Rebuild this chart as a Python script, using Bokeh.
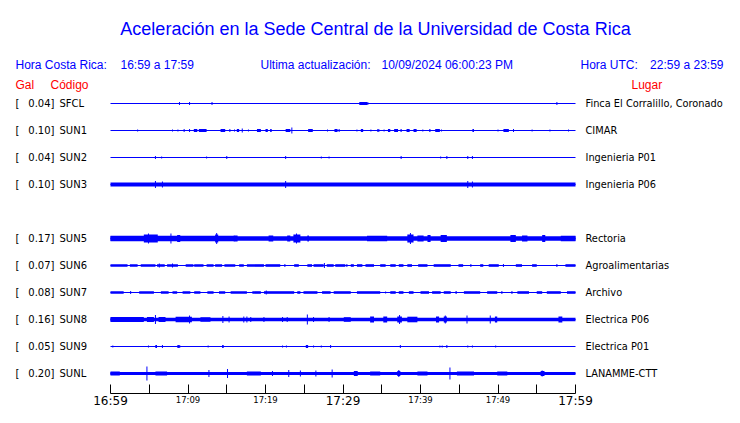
from bokeh.plotting import figure
from bokeh.models import Range1d, LinearAxis, FixedTicker, Label, ColumnDataSource
from bokeh.embed import file_html
from bokeh.resources import INLINE

# ---------------- data ----------------
TITLE = "Aceleración en la Sede Central de la Universidad de Costa Rica"
HORA_CR_LABEL = "Hora Costa Rica:"
HORA_CR = "16:59 a 17:59"
ACT_LABEL = "Ultima actualización:"
ACTUALIZACION = "10/09/2024 06:00:23 PM"
HORA_UTC_LABEL = "Hora UTC:"
HORA_UTC = "22:59 a 23:59"

stations = ["SFCL", "SUN1", "SUN2", "SUN3", "SUN5", "SUN6", "SUN7", "SUN8", "SUN9", "SUNL"]
peak_gal = [0.04, 0.10, 0.04, 0.10, 0.17, 0.07, 0.08, 0.16, 0.05, 0.20]
places = ["Finca El Corralillo, Coronado", "CIMAR", "Ingenieria P01", "Ingenieria P06",
          "Rectoria", "Agroalimentarias", "Archivo", "Electrica P06", "Electrica P01",
          "LANAMME-CTT"]
slots = [0, 1, 2, 3, 5, 6, 7, 8, 9, 10]   # SUN4 has no trace

# continuous background envelope (relative amplitude) for each station
base_amp = [0, 0, 0, 2.0, 2.2, 0, 0, 1.8, 0, 1.5]

# bursts: (start minute, end minute, amplitude)
blocks_SFCL = [(32.1, 33.1, 1.5)]
blocks_SUN1 = [(10.75, 11.2, 1.5), (11.4, 12.4, 1.5), (14.2, 14.8, 1.5), (16.3, 16.6, 1.5),
               (18.9, 19.4, 1.5), (20.0, 20.3, 1.5), (20.6, 20.8, 1.5), (22.6, 23.2, 1.5),
               (25.5, 26.1, 1.5), (28.9, 29.3, 1.5), (32.3, 32.6, 1.5), (34.4, 34.7, 1.2),
               (35.8, 36.1, 1.5), (36.6, 37.1, 1.5), (37.4, 37.6, 1.2), (38.2, 38.6, 1.5),
               (39.1, 39.5, 1.5), (41.1, 41.3, 1.2), (41.9, 42.5, 1.5), (46.7, 46.9, 1.5),
               (50.7, 51.4, 1.5)]
blocks_SUN2 = []
blocks_SUN3 = []
blocks_SUN5 = [(0.0, 16.0, 2.8), (4.3, 6.1, 4.0), (8.6, 9.0, 3.5), (13.5, 13.9, 4.0),
               (15.9, 16.4, 3.0), (20.4, 21.0, 3.0), (22.8, 23.2, 3.0), (23.6, 24.5, 4.0),
               (25.4, 25.6, 3.0), (33.1, 35.7, 2.8), (38.3, 39.1, 4.0), (39.6, 40.4, 3.0),
               (40.9, 41.3, 3.5), (42.6, 43.4, 3.5), (51.6, 52.3, 3.5), (53.1, 53.8, 3.0),
               (55.7, 56.1, 3.5), (58.1, 60.0, 2.8)]
blocks_SUN6 = [(0.0, 2.2, 1.3), (2.5, 3.5, 1.3), (3.9, 5.8, 1.3), (6.0, 7.0, 1.3), (7.3, 8.7, 1.3),
               (9.7, 10.7, 1.3), (10.8, 12.0, 1.3), (12.4, 13.3, 1.3), (13.5, 14.4, 1.3),
               (14.7, 16.1, 1.3), (16.6, 17.2, 1.3), (17.6, 19.8, 1.3), (20.0, 21.9, 1.3),
               (23.7, 24.3, 1.3), (25.4, 26.0, 1.3), (26.2, 27.5, 1.3), (27.9, 28.8, 1.3),
               (29.0, 30.3, 1.3), (31.0, 31.4, 1.3), (31.8, 32.5, 1.3), (32.9, 34.0, 1.3),
               (34.8, 35.5, 1.3), (36.1, 36.8, 1.3), (37.2, 37.8, 1.3), (38.3, 38.9, 1.3),
               (39.7, 40.9, 1.3), (41.7, 43.9, 1.3), (44.9, 45.5, 1.3), (47.7, 48.1, 1.3),
               (48.8, 50.1, 1.3), (52.3, 53.1, 1.3), (54.4, 55.0, 1.3), (58.7, 60.0, 1.3)]
blocks_SUN7 = [(0.0, 1.7, 1.3), (3.7, 5.6, 1.3), (6.5, 7.5, 1.3), (8.0, 8.6, 1.3), (9.3, 10.3, 1.3),
               (10.8, 11.6, 1.3), (12.5, 13.3, 1.3), (14.0, 14.8, 1.3), (15.5, 17.6, 1.3),
               (18.3, 19.4, 1.3), (19.8, 23.7, 1.3), (24.1, 24.5, 1.3), (24.9, 26.7, 1.3),
               (27.3, 28.4, 1.3), (28.8, 31.0, 1.3), (31.8, 34.8, 1.3), (36.1, 36.8, 1.3),
               (37.2, 37.8, 1.3), (38.5, 39.1, 1.3), (40.0, 41.1, 1.3), (41.5, 42.6, 1.3),
               (43.0, 43.9, 1.3), (44.5, 44.7, 1.3), (45.6, 47.7, 1.3), (48.6, 49.9, 1.3),
               (52.5, 54.0, 1.3), (55.0, 55.7, 1.3), (56.3, 58.1, 1.3), (58.9, 60.0, 1.3)]
blocks_SUN8 = [(0.0, 4.3, 2.5), (4.7, 5.6, 2.5), (6.2, 7.1, 2.5), (8.4, 10.5, 2.8),
               (11.6, 12.9, 2.2), (30.1, 31.0, 2.3), (33.5, 34.0, 3.0), (35.2, 35.7, 3.0),
               (37.0, 37.6, 3.0), (38.3, 39.6, 2.8), (42.0, 42.4, 3.0), (43.0, 43.4, 3.0),
               (49.6, 49.9, 3.0), (57.8, 58.3, 3.0)]
blocks_SUN9 = [(5.8, 6.0, 1.5), (8.6, 9.0, 1.3), (14.4, 14.6, 1.3), (25.2, 25.5, 1.5)]
blocks_SUNL = [(0.0, 1.2, 2.0), (5.8, 7.3, 2.0), (17.6, 19.4, 2.0), (31.4, 31.9, 2.5),
               (33.5, 34.8, 2.0), (37.0, 37.4, 2.5), (39.6, 40.9, 2.0), (44.7, 46.9, 2.0),
               (49.9, 51.2, 2.0), (55.5, 56.0, 2.5)]

# isolated spikes: (minute, amplitude)
spikes_SFCL = [(8.9, 1.5), (10.2, 1.5), (13.1, 1.5), (33.2, 1.5), (57.6, 1.5)]
spikes_SUN1 = [(3.5, 1.0), (8.0, 1.0), (8.7, 1.0), (9.5, 1.5), (10.2, 1.5), (15.4, 1.5),
               (16.0, 1.0), (17.0, 2.0), (17.8, 1.0), (23.4, 3.0), (28.0, 1.0), (29.5, 1.5),
               (31.8, 1.0), (33.6, 1.0), (35.3, 1.0), (40.3, 1.0), (42.7, 1.0), (50.0, 1.0),
               (52.0, 1.5), (54.4, 1.0), (56.7, 1.0), (59.1, 1.0)]
spikes_SUN2 = [(5.8, 1.5), (6.6, 1.0), (12.4, 1.0), (15.0, 1.5), (22.6, 1.5), (27.2, 1.0),
               (28.2, 1.0), (37.5, 1.5), (42.6, 1.0), (43.4, 1.5), (46.1, 1.5), (46.7, 1.5)]
spikes_SUN3 = [(5.8, 3.5), (6.7, 3.0), (22.6, 3.5), (46.1, 3.5), (46.7, 3.0)]
spikes_SUN5 = [(4.9, 5.0), (7.8, 5.0), (13.7, 5.5), (24.0, 5.0), (38.7, 5.5)]
spikes_SUN6 = [(6.3, 2.0), (8.0, 2.0), (22.5, 1.5), (27.6, 2.5), (30.5, 1.5), (46.5, 1.5),
               (50.7, 1.5), (57.6, 1.5)]
spikes_SUN7 = [(2.6, 1.5), (20.1, 2.0), (35.5, 1.0), (50.5, 1.5), (51.8, 1.5)]
spikes_SUN8 = [(5.8, 4.5), (10.2, 4.0), (14.5, 3.5), (15.3, 3.0), (17.2, 3.0), (17.6, 3.0),
               (18.1, 2.5), (19.8, 2.5), (22.2, 2.5), (22.8, 2.5), (25.4, 5.0), (26.2, 2.5),
               (28.2, 2.5), (37.3, 4.5), (43.2, 4.0), (46.0, 4.0), (49.0, 4.0)]
spikes_SUN9 = [(0.3, 1.0), (4.9, 1.0), (5.9, 1.5), (6.7, 1.5), (8.8, 1.5), (12.6, 1.0),
               (14.5, 1.5), (22.2, 1.0), (22.7, 1.0), (25.3, 1.5), (26.2, 1.0), (27.2, 1.0),
               (28.4, 1.5), (37.4, 1.5), (42.5, 1.0), (42.8, 1.0), (43.4, 1.5), (46.1, 1.0),
               (46.7, 1.0), (49.7, 1.0)]
spikes_SUNL = [(4.7, 7.0), (12.7, 3.5), (15.1, 4.5), (20.9, 2.5), (23.0, 3.5), (24.5, 3.0),
               (26.5, 3.0), (28.6, 4.0), (37.2, 3.5), (43.8, 6.0), (55.7, 3.0)]

blocks = [blocks_SFCL, blocks_SUN1, blocks_SUN2, blocks_SUN3, blocks_SUN5, blocks_SUN6,
          blocks_SUN7, blocks_SUN8, blocks_SUN9, blocks_SUNL]
spikes = [spikes_SFCL, spikes_SUN1, spikes_SUN2, spikes_SUN3, spikes_SUN5, spikes_SUN6,
          spikes_SUN7, spikes_SUN8, spikes_SUN9, spikes_SUNL]

DURATION = 60  # minutes, 16:59 -> 17:59
tick_minutes = [0, 5, 10, 15, 20, 25, 30, 35, 40, 45, 50, 55, 60]
small_tick_labels = {10: "17:09", 20: "17:19", 40: "17:39", 50: "17:49"}
big_tick_labels = {0: "16:59", 30: "17:29", 60: "17:59"}

# ---------------- layout / style ----------------
W, H = 724, 407
X0 = 110            # canvas x of 16:59
PX_PER_MIN = 7.75
AXIS_Y = 393        # canvas y of the time axis
ROW0, ROW_STEP = 103, 27
BLUE, RED, BLACK = "#0000FF", "#FF0000", "#000000"
HEAD_FONT = "Liberation Sans, Arial, sans-serif"
ROW_FONT = "DejaVu Sans, sans-serif"

p = figure(width=W, height=H, output_backend="svg", toolbar_location=None,
           x_range=Range1d(-X0 / PX_PER_MIN, (W - X0) / PX_PER_MIN),
           y_range=Range1d(H, 0),
           x_axis_location=None, y_axis_location=None,
           min_border_left=0, min_border_right=0, min_border_top=0, min_border_bottom=0)
p.extra_x_ranges = {"px": Range1d(0, W)}
p.outline_line_color = None
p.grid.grid_line_color = None
p.background_fill_color = "white"

axis_big = LinearAxis(ticker=FixedTicker(ticks=tick_minutes), bounds=(0, DURATION),
                      fixed_location=AXIS_Y,
                      major_tick_in=9, major_tick_out=0, minor_tick_line_color=None,
                      axis_line_color=BLACK, major_tick_line_color=BLACK,
                      major_label_standoff=0,
                      major_label_text_font_size="12px",
                      major_label_text_font="DejaVu Sans, sans-serif",
                      major_label_text_color=BLACK,
                      major_label_overrides={t: big_tick_labels.get(t, "") for t in tick_minutes})
axis_small = LinearAxis(ticker=FixedTicker(ticks=list(small_tick_labels)), bounds=(0, DURATION),
                        fixed_location=AXIS_Y,
                        major_tick_in=0, major_tick_out=0, minor_tick_line_color=None,
                        axis_line_color=None, major_tick_line_color=None,
                        major_label_standoff=1,
                        major_label_text_font_size="8.5px",
                        major_label_text_font="DejaVu Sans, sans-serif",
                        major_label_text_color=BLACK,
                        major_label_overrides=small_tick_labels)
p.add_layout(axis_big, "below")
p.add_layout(axis_small, "below")

# traces
rows_y = [ROW0 + ROW_STEP * s for s in slots]
n = len(stations)
p.segment(x0=[0] * n, x1=[DURATION] * n, y0=rows_y, y1=rows_y, line_color=BLUE, line_width=1)

ql, qr, qt, qb = [], [], [], []
for i, y in enumerate(rows_y):
    if base_amp[i] > 0:
        ql.append(0); qr.append(DURATION); qt.append(y - base_amp[i]); qb.append(y + base_amp[i])
    for (a, b, amp) in blocks[i]:
        ql.append(a); qr.append(b); qt.append(y - amp); qb.append(y + amp)
p.quad(left=ql, right=qr, top=qt, bottom=qb, fill_color=BLUE, line_color=None)

sx, sy0, sy1 = [], [], []
for i, y in enumerate(rows_y):
    for (m, amp) in spikes[i]:
        sx.append(m); sy0.append(y - amp); sy1.append(y + amp)
p.segment(x0=sx, x1=sx, y0=sy0, y1=sy1, line_color=BLUE, line_width=1)

# row labels
src = ColumnDataSource(dict(
    y=rows_y,
    br=["["] * n,
    gal=["%.2f]" % g for g in peak_gal],
    code=stations,
    place=places,
))
common = dict(y="y", source=src, x_range_name="px", text_baseline="middle",
              text_color=BLACK, text_font={"value": ROW_FONT})
p.text(x=15, text="br", text_align="left", text_font_size="10px", **common)
p.text(x=54, text="gal", text_align="right", text_font_size="10px", **common)
p.text(x=59, text="code", text_align="left", text_font_size="10px", **common)
p.text(x=585, text="place", text_align="left", text_font_size="9.8px", **common)

# header texts
def lab(x, y, text, size, color, align="left"):
    p.add_layout(Label(x=x, y=y, x_range_name="px", text=text, text_align=align,
                       text_baseline="alphabetic", text_font_size=size,
                       text_font=HEAD_FONT, text_color=color))

lab(375, 28, TITLE, "18px", BLUE, "center")
lab(15, 64, HORA_CR_LABEL, "12px", BLUE)
lab(120, 64, HORA_CR, "12px", BLUE)
lab(260, 64, ACT_LABEL, "12px", BLUE)
lab(381, 64, ACTUALIZACION, "12px", BLUE)
lab(580, 64, HORA_UTC_LABEL, "12px", BLUE)
lab(723, 64, HORA_UTC, "12px", BLUE, "right")
lab(15, 84, "Gal", "12px", RED)
lab(50, 84, "Código", "12px", RED)
lab(631, 84, "Lugar", "12px", RED)

open("out.html", "w").write(file_html(p, INLINE))
